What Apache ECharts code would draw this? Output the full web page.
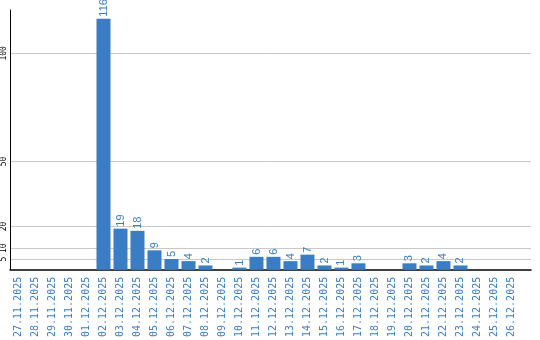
<!DOCTYPE html>
<html>
<head>
<meta charset="utf-8">
<script src="https://cdn.jsdelivr.net/npm/echarts@6/dist/echarts.min.js"></script>
<style>html,body{margin:0;padding:0;background:#fff}#c{width:540px;height:340px}</style>
</head>
<body>
<div id="c"></div>
<script>
var dates = ["27.11.2025","28.11.2025","29.11.2025","30.11.2025","01.12.2025","02.12.2025","03.12.2025","04.12.2025","05.12.2025","06.12.2025","07.12.2025","08.12.2025","09.12.2025","10.12.2025","11.12.2025","12.12.2025","13.12.2025","14.12.2025","15.12.2025","16.12.2025","17.12.2025","18.12.2025","19.12.2025","20.12.2025","21.12.2025","22.12.2025","23.12.2025","24.12.2025","25.12.2025","26.12.2025"];
var counts = [0,0,0,0,0,116,19,18,9,5,4,2,0,1,6,6,4,7,2,1,3,0,0,3,2,4,2,0,0,0];
var yTicks = [5,10,20,50,100];

var idx = dates.map(function(d,i){return i;});
var blue = '#3b7dc4';
var chart = echarts.init(document.getElementById('c'), null, {renderer:'canvas'});
chart.setOption({
  animation:false,
  grid:{left:10,right:9,top:10,bottom:70,containLabel:false},
  xAxis:{
    type:'value', min:-0.5, max:30.15,
    axisLine:{show:true,onZero:false,lineStyle:{color:'#000',width:1.5}},
    axisTick:{show:false, customValues: idx},
    splitLine:{show:false},
    axisLabel:{
      customValues: idx, rotate:90, margin:7, color:blue,
      fontFamily:'DejaVu Sans Mono', fontSize:10,
      formatter:function(v){return dates[Math.round(v)]||'';}
    }
  },
  yAxis:{
    type:'value', min:0, max:120,
    axisLine:{show:true,onZero:false,lineStyle:{color:'#000',width:1}},
    axisTick:{show:false, customValues:yTicks},
    splitLine:{show:true,lineStyle:{color:'#c8c8c8',width:1}},
    axisLabel:{customValues:yTicks, rotate:90, margin:2, color:'#000',
      fontFamily:'DejaVu Sans Mono', fontSize:8}
  },
  series:[{
    type:'bar', barWidth:14,
    data: counts.map(function(v,i){return [i,v];}),
    itemStyle:{color:blue},
    label:{show:true, position:'top', rotate:90, align:'left', verticalAlign:'middle', distance:2,
      color:blue, fontFamily:'Liberation Sans', fontSize:11,
      formatter:function(p){return p.value[1] ? String(p.value[1]) : '';}}
  }]
});
</script>
</body>
</html>
